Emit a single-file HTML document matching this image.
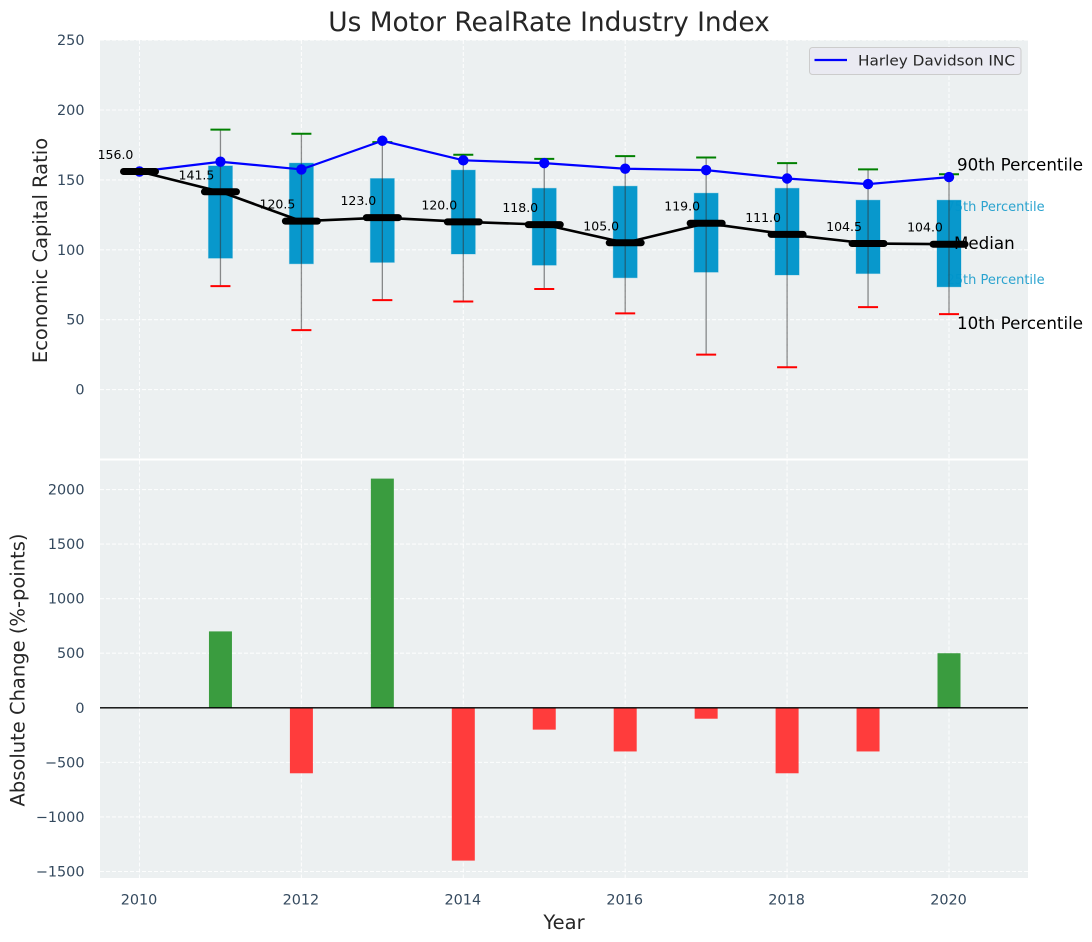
<!DOCTYPE html>
<html lang="en">
<head>
<meta charset="utf-8">
<title>Us Motor RealRate Industry Index</title>
<style>
html,body{margin:0;padding:0;background:#fff;width:1092px;height:942px;overflow:hidden}
svg{display:block}
text{font-family:"DejaVu Sans","Liberation Sans",sans-serif}
.tick{font-size:14.4px;fill:#34495e}
.axis-title{font-size:19.5px;fill:#262626}
.value{font-size:12.5px;fill:#000}
.pct{font-size:16.7px;fill:#000}
.pct-small{font-size:13px;fill:#2ba3cf}
</style>
</head>
<body>
<svg id="chart" xmlns="http://www.w3.org/2000/svg" width="1092" height="942" viewBox="0 0 1092 942">
  <rect x="100" y="40" width="928" height="418.5" fill="#ecf0f1"/>
  <rect x="100" y="460.5" width="928" height="417.5" fill="#ecf0f1"/>
  <g id="grid"></g>
  <g id="labels-behind"></g>
  <g id="bars"></g>
  <line x1="100" x2="1028" y1="707.8" y2="707.8" stroke="#000" stroke-width="1.3"/>
  <g id="boxes"></g>
  <g id="series"></g>
  <g id="ticks"></g>
  <text x="549" y="31" text-anchor="middle" font-size="26.4px" fill="#262626">Us Motor RealRate Industry Index</text>
  <text class="axis-title" transform="translate(47 250.5) rotate(-90)" text-anchor="middle">Economic Capital Ratio</text>
  <text class="axis-title" transform="translate(24.5 670) rotate(-90)" text-anchor="middle">Absolute Change (%-points)</text>
  <text class="axis-title" x="564" y="929" text-anchor="middle">Year</text>
  <g>
    <rect x="809.5" y="47.5" width="211.5" height="27" rx="3" fill="#eaeaf2" stroke="#cccccc" stroke-width="1"/>
    <line x1="814.5" x2="847" y1="60" y2="60" stroke="#0000ff" stroke-width="2.2"/>
    <text x="858" y="65.5" font-size="14.4px" textLength="157" lengthAdjust="spacingAndGlyphs" fill="#262626">Harley Davidson INC</text>
  </g>
</svg>
<script>
const years = [2010, 2011, 2012, 2013, 2014, 2015, 2016, 2017, 2018, 2019, 2020];
const companyValues = [156, 163, 157.5, 178, 164, 162, 158, 157, 151, 147, 152];
const medianValues = [156, 141.5, 120.5, 123, 120, 118, 105, 119, 111, 104.5, 104];
const medianLabels = ['156.0', '141.5', '120.5', '123.0', '120.0', '118.0', '105.0', '119.0', '111.0', '104.5', '104.0'];
const p90Values = [null, 186, 183, 177, 168, 165, 167, 166, 162, 157.5, 154];
const p75Values = [null, 160, 162, 151, 157, 144, 145.5, 140.5, 144, 135.5, 135.5];
const p25Values = [null, 94, 90, 91, 97, 89, 80, 84, 82, 83, 73.5];
const p10Values = [null, 74, 42.5, 64, 63, 72, 54.5, 25, 16, 59, 54];
const changeValues = [0, 700, -600, 2100, -1400, -200, -400, -100, -600, -400, 500];
const xTicks = [2010, 2012, 2014, 2016, 2018, 2020];
const topYTicks = [0, 50, 100, 150, 200, 250];
const bottomYTicks = [-1500, -1000, -500, 0, 500, 1000, 1500, 2000];

const NS = 'http://www.w3.org/2000/svg';
const xScale = v => 139.5 + (v - 2010) * 80.95;
const yTop = v => 389.6 - v * 1.398;
const yBottom = v => 707.8 - v * 0.10914;

function make(parent, tag, attrs, content) {
  const el = document.createElementNS(NS, tag);
  for (const k in attrs) el.setAttribute(k, attrs[k]);
  if (content !== undefined) el.textContent = content;
  parent.appendChild(el);
  return el;
}
const grid = document.getElementById('grid');
const ticks = document.getElementById('ticks');
const bars = document.getElementById('bars');
const boxes = document.getElementById('boxes');
const series = document.getElementById('series');
const behind = document.getElementById('labels-behind');
const gridStyle = {stroke: '#ffffff', 'stroke-width': 1.1, 'stroke-dasharray': '4 2', 'stroke-opacity': 0.85};

xTicks.forEach(t => {
  const g1 = make(grid, 'line', {x1: xScale(t), x2: xScale(t), y1: 40, y2: 458.5, ...gridStyle});
  
  
  const g2 = make(grid, 'line', {x1: xScale(t), x2: xScale(t), y1: 460.5, y2: 878, ...gridStyle});
  
  
  const lab = make(ticks, 'text', {x: xScale(t) - 0.5, y: 904.5, 'text-anchor': 'middle', class: 'tick'}, String(t));
  
  
});
topYTicks.forEach(t => {
  const g = make(grid, 'line', {x1: 100, x2: 1028, y1: yTop(t), y2: yTop(t), ...gridStyle});
  
  
  const lab = make(ticks, 'text', {x: 84.5, y: yTop(t) + 5, 'text-anchor': 'end', class: 'tick'}, String(t));
  
  
});
bottomYTicks.forEach(t => {
  const g = make(grid, 'line', {x1: 100, x2: 1028, y1: yBottom(t), y2: yBottom(t), ...gridStyle});
  
  
  const text = t < 0 ? '\u2212' + Math.abs(t) : String(t);
  const lab = make(ticks, 'text', {x: 84.5, y: yBottom(t) + 5, 'text-anchor': 'end', class: 'tick'}, text);
  
  
});

/* bars */
const barHalf = 0.142;
years.forEach((yr, i) => {
  const v = changeValues[i];
  if (!v) return;
  const y0 = yBottom(Math.max(v, 0));
  const y1 = yBottom(Math.min(v, 0));
  const r = make(bars, 'rect', {
    x: xScale(yr - barHalf), y: y0,
    width: xScale(yr + barHalf) - xScale(yr - barHalf), height: y1 - y0,
    fill: v > 0 ? '#3a9c3f' : '#ff3c3c'
  });
  
  
});

/* percentile labels anchored to the last year */
const last = years.length - 1;
const lastX = xScale(years[last]);
const l75 = make(behind, 'text', {x: lastX - 2.5, y: yTop(p75Values[last]) + 11, class: 'pct-small'}, '75th Percentile');


const l25 = make(behind, 'text', {x: lastX - 2.5, y: yTop(p25Values[last]) - 3, class: 'pct-small'}, '25th Percentile');



/* boxes, whiskers */
years.forEach((yr, i) => {
  if (p90Values[i] === null) return;
  const xc = xScale(yr);
  const b = make(boxes, 'rect', {
    x: xc - 12, y: yTop(p75Values[i]), width: 24,
    height: yTop(p25Values[i]) - yTop(p75Values[i]),
    fill: '#0095ca', 'fill-opacity': 0.97, stroke: '#0099cc', 'stroke-opacity': 0.3, 'stroke-width': 1
  });
  
  
  const w = make(boxes, 'line', {x1: xc, x2: xc, y1: yTop(p90Values[i]), y2: yTop(p10Values[i]), stroke: '#333', 'stroke-opacity': 0.55, 'stroke-width': 1.3});
  
  
  const hi = make(boxes, 'line', {x1: xc - 10, x2: xc + 10, y1: yTop(p90Values[i]), y2: yTop(p90Values[i]), stroke: '#008000', 'stroke-width': 2});
  
  
  const lo = make(boxes, 'line', {x1: xc - 10, x2: xc + 10, y1: yTop(p10Values[i]), y2: yTop(p10Values[i]), stroke: '#ff0000', 'stroke-width': 2});
  
  
});

/* company line */
const companyPts = years.map((yr, i) => xScale(yr) + ',' + yTop(companyValues[i])).join(' ');
const companyLine = make(series, 'polyline', {points: companyPts, fill: 'none', stroke: '#0000ff', 'stroke-width': 2.2});


years.forEach((yr, i) => {
  const c = make(series, 'circle', {cx: xScale(yr), cy: yTop(companyValues[i]), r: 5.2, fill: '#0000ff'});
  
  
});

/* median line */
const medianPts = years.map((yr, i) => xScale(yr) + ',' + yTop(medianValues[i])).join(' ');
const medianLine = make(series, 'polyline', {points: medianPts, fill: 'none', stroke: '#000', 'stroke-width': 2.6});



/* right-hand labels */
const l90 = make(series, 'text', {x: lastX + 8, y: yTop(p90Values[last]) - 4, class: 'pct'}, '90th Percentile');


const lMed = make(series, 'text', {x: lastX + 5, y: yTop(medianValues[last]) + 5, class: 'pct'}, 'Median');


const l10 = make(series, 'text', {x: lastX + 8, y: yTop(p10Values[last]) + 15, class: 'pct'}, '10th Percentile');



years.forEach((yr, i) => {
  const xc = xScale(yr), yc = yTop(medianValues[i]);
  const m = make(series, 'line', {x1: xc - 16, x2: xc + 16, y1: yc, y2: yc, stroke: '#000', 'stroke-width': 7, 'stroke-linecap': 'round'});
  
  
  const t = make(series, 'text', {x: xc - 24, y: yc - 12.5, 'text-anchor': 'middle', class: 'value'}, medianLabels[i]);
  
  
});
</script>
</body>
</html>
